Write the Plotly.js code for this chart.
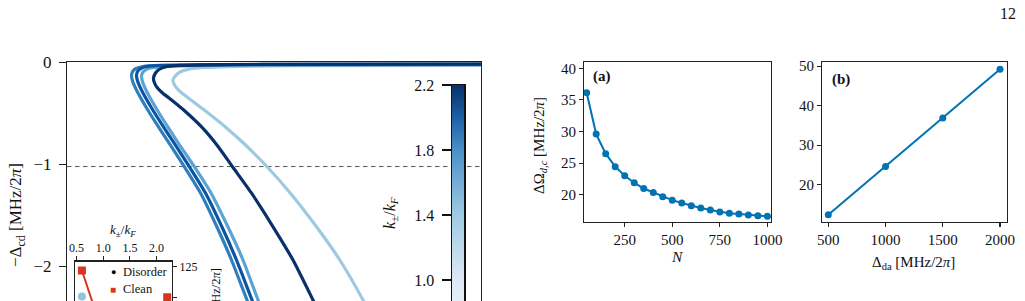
<!DOCTYPE html>
<html><head><meta charset="utf-8">
<script src="https://cdn.plot.ly/plotly-3.0.1.min.js"></script>
<style>html,body{margin:0;padding:0;background:#fff;}#chart{width:1025px;height:301px;}</style>
</head><body><div id="chart"></div>
<script>
// ---------- main panel: −Δcd curves, one per k±/kF ----------
const curveK = [1.4, 1.6, 1.8, 2.0, 2.2];
const curveColors = ['#9ecae1', '#5ba3d3', '#2f7fbf', '#0b549f', '#08306b'];
const curveX_k14 = [100.00, 56.28, 41.79, 33.33, 29.71, 27.54, 26.33, 25.60, 25.97, 26.93, 28.38, 29.95, 33.14, 38.19, 42.61, 48.33, 53.91, 60.31, 65.89, 71.50, 72.95];
const curveY_k14 = [-0.031, -0.034, -0.039, -0.051, -0.066, -0.090, -0.125, -0.174, -0.223, -0.272, -0.321, -0.370, -0.468, -0.631, -0.791, -1.024, -1.281, -1.615, -1.938, -2.330, -2.448];
const curveX_k16 = [100.00, 56.28, 34.54, 24.88, 20.77, 19.08, 18.36, 17.99, 18.19, 18.72, 19.57, 21.93, 24.52, 27.05, 30.80, 34.78, 38.89, 42.51, 46.14, 47.34];
const curveY_k16 = [-0.023, -0.026, -0.031, -0.039, -0.051, -0.071, -0.095, -0.134, -0.183, -0.242, -0.311, -0.477, -0.644, -0.801, -1.026, -1.281, -1.615, -1.938, -2.330, -2.448];
const curveX_k18 = [100.00, 56.28, 32.13, 22.46, 18.36, 16.67, 15.94, 15.58, 15.77, 16.30, 17.15, 19.52, 22.10, 24.64, 28.38, 32.25, 36.23, 39.73, 43.48, 44.69];
const curveY_k18 = [-0.020, -0.023, -0.026, -0.031, -0.041, -0.061, -0.085, -0.125, -0.174, -0.232, -0.301, -0.468, -0.634, -0.791, -1.026, -1.281, -1.615, -1.938, -2.330, -2.448];
const curveX_k20 = [100.00, 56.28, 33.33, 23.67, 19.57, 17.87, 17.15, 16.79, 16.98, 17.51, 18.36, 20.73, 23.31, 25.85, 29.59, 33.45, 37.44, 40.94, 44.69, 45.89];
const curveY_k20 = [-0.017, -0.020, -0.024, -0.029, -0.039, -0.059, -0.085, -0.125, -0.174, -0.232, -0.301, -0.468, -0.634, -0.791, -1.026, -1.281, -1.615, -1.938, -2.330, -2.448];
const curveX_k22 = [100.00, 56.28, 36.96, 27.29, 23.67, 22.22, 21.38, 20.89, 21.14, 21.86, 23.07, 24.64, 26.45, 28.19, 32.51, 36.21, 40.02, 44.54, 49.81, 54.59, 59.42, 60.87];
const curveY_k22 = [-0.015, -0.017, -0.022, -0.031, -0.046, -0.071, -0.105, -0.154, -0.203, -0.252, -0.301, -0.350, -0.409, -0.468, -0.634, -0.811, -1.026, -1.281, -1.615, -1.938, -2.330, -2.448];
const thresholdY = -1.022;
const mainYTicks = [0, -1, -2];
const mainYTickText = ['0', '−1', '−2'];

// colorbar (k±/kF)
const cbarLevels = [0.6, 1.0, 1.4, 1.8, 2.0, 2.2];
const cbarTicks = [1.0, 1.4, 1.8, 2.2];
const cbarTickText = ['1.0', '1.4', '1.8', '2.2'];

// ---------- inset ----------
const insetK = [0.6, 1.0, 1.4, 1.8, 2.2];
const insetClean = [121.8, 70, 60, 66, 100.3];
const insetDisorder = [100.8, 78, 66, 62, 72];
const insetDisorderColors = ['#92c3e0', '#6baed6', '#4292c6', '#2171b5', '#08519c'];
const insetXTicks = [0.5, 1.0, 1.5, 2.0];
const insetXTickText = ['0.5', '1.0', '1.5', '2.0'];
const insetYTicks = [100, 125];

// ---------- panel (a) ----------
const panelA_N = [50, 100, 150, 200, 250, 300, 350, 400, 450, 500, 550, 600, 650, 700, 750, 800, 850, 900, 950, 1000];
const panelA_dOmega = [36.15, 29.6, 26.5, 24.45, 23.0, 21.9, 21.0, 20.35, 19.7, 19.15, 18.7, 18.25, 17.9, 17.6, 17.3, 17.1, 16.95, 16.8, 16.7, 16.6];
const panelA_XTicks = [250, 500, 750, 1000];
const panelA_YTicks = [20, 25, 30, 35, 40];

// ---------- panel (b) ----------
const panelB_deltaDA = [500, 1000, 1500, 2000];
const panelB_dOmega = [12.4, 24.6, 36.9, 49.2];
const panelB_XTicks = [500, 1000, 1500, 2000];
const panelB_YTicks = [20, 30, 40, 50];

// ---------- build ----------
const W = 1025, H = 301;
const fx = v => v / W;
const fy = v => 1 - v / H;
const FONT = 'Liberation Serif';
const INK = '#111';
const LINE = '#222';
const BLUE = '#0173b2';
const RED = '#d9341f';
const F = (size, color) => ({family: FONT, size: size, color: color || INK});

const curves = [
  [curveX_k14, curveY_k14], [curveX_k16, curveY_k16], [curveX_k18, curveY_k18],
  [curveX_k20, curveY_k20], [curveX_k22, curveY_k22]
];
const traces = [];
curves.forEach((c, i) => {
  traces.push({x: c[0], y: c[1], xaxis: 'x', yaxis: 'y', mode: 'lines',
    name: 'k=' + curveK[i], line: {color: curveColors[i], width: 3.2, shape: 'spline', smoothing: 0.6},
    showlegend: false, hoverinfo: 'skip'});
});

traces.push({type: 'heatmap', xaxis: 'x5', yaxis: 'y5', x: [0, 1], y: cbarLevels,
  z: cbarLevels.map(v => [v, v]), zmin: 0.6, zmax: 2.2, zsmooth: 'best', showscale: false,
  colorscale: [[0, '#f7fbff'], [0.25, '#dde9f5'], [0.5, '#a0cbe2'], [0.75, '#4a90c8'], [0.875, '#1c62a8'], [1, '#08306b']],
  hoverinfo: 'skip'});

traces.push({x: insetK, y: insetClean, xaxis: 'x4', yaxis: 'y4', mode: 'lines+markers',
  line: {color: RED, width: 2}, marker: {symbol: 'square', size: 8, color: RED}, showlegend: false});
traces.push({x: insetK, y: insetDisorder, xaxis: 'x4', yaxis: 'y4', mode: 'markers',
  marker: {symbol: 'circle', size: 8, color: insetDisorderColors}, showlegend: false});

traces.push({x: panelA_N, y: panelA_dOmega, xaxis: 'x2', yaxis: 'y2', mode: 'lines+markers',
  line: {color: BLUE, width: 2}, marker: {size: 7, color: BLUE}, showlegend: false});
traces.push({x: panelB_deltaDA, y: panelB_dOmega, xaxis: 'x3', yaxis: 'y3', mode: 'lines+markers',
  line: {color: BLUE, width: 2}, marker: {size: 7, color: BLUE}, showlegend: false});

const axBase = {showgrid: false, zeroline: false, linecolor: LINE, linewidth: 1.1, tickcolor: LINE,
  tickwidth: 1.1, fixedrange: true, showline: true};

const ann = (text, x, y, size, extra) => Object.assign({text: text, xref: 'paper', yref: 'paper',
  x: fx(x), y: fy(y), xanchor: 'center', yanchor: 'middle', showarrow: false, font: F(size)}, extra || {});

const layout = {
  width: W, height: H, margin: {l: 0, r: 0, t: 0, b: 0},
  paper_bgcolor: '#fff', plot_bgcolor: '#fff',
  font: F(15),
  showlegend: false,
  xaxis: Object.assign({}, axBase, {domain: [fx(67), fx(481)], anchor: 'y', range: [0, 100], side: 'top',
    ticks: '', showticklabels: false}),
  yaxis: Object.assign({}, axBase, {domain: [0, fy(62.3)], anchor: 'x', range: [-2.340, 0], mirror: true,
    ticks: 'outside', ticklen: 7, tickvals: mainYTicks, ticktext: mainYTickText, tickfont: F(17),
    ticklabelstandoff: 4}),
  xaxis2: Object.assign({}, axBase, {domain: [fx(584), fx(771)], anchor: 'y2', range: [36, 1019], mirror: true,
    ticks: 'outside', ticklen: 4, tickvals: panelA_XTicks, tickfont: F(15)}),
  yaxis2: Object.assign({}, axBase, {domain: [fy(222), fy(62)], anchor: 'x2', range: [15.7, 41.0], mirror: true,
    ticks: 'outside', ticklen: 4, tickvals: panelA_YTicks, tickfont: F(15)}),
  xaxis3: Object.assign({}, axBase, {domain: [fx(822), fx(1007)], anchor: 'y3', range: [445, 2061], mirror: true,
    ticks: 'outside', ticklen: 4, tickvals: panelB_XTicks, tickfont: F(15)}),
  yaxis3: Object.assign({}, axBase, {domain: [fy(222), fy(62)], anchor: 'x3', range: [10.56, 51.04], mirror: true,
    ticks: 'outside', ticklen: 4, tickvals: panelB_YTicks, tickfont: F(15)}),
  xaxis4: Object.assign({}, axBase, {domain: [fx(75), fx(172)], anchor: 'y4', side: 'top', range: [0.47, 2.29],
    ticks: 'outside', ticklen: 4, tickvals: insetXTicks, ticktext: insetXTickText, tickfont: F(12)}),
  yaxis4: Object.assign({}, axBase, {domain: [0, fy(261.5)], anchor: 'x4', side: 'right', range: [97.2, 129.0],
    mirror: true, ticks: 'outside', ticklen: 4, tickvals: insetYTicks, tickfont: F(12)}),
  xaxis5: Object.assign({}, axBase, {domain: [fx(452), fx(464)], anchor: 'y5', side: 'top', range: [-0.5, 1.5],
    ticks: '', showticklabels: false, linecolor: '#111', linewidth: 1.5}),
  yaxis5: Object.assign({}, axBase, {domain: [0, fy(85)], anchor: 'x5', range: [0.8708, 2.2], mirror: true,
    linecolor: '#111', linewidth: 1.5, ticks: 'outside', ticklen: 9, tickwidth: 1.5, tickcolor: '#111',
    tickvals: cbarTicks, ticktext: cbarTickText, tickfont: F(16), ticklabelstandoff: 4}),
  shapes: [
    {type: 'line', xref: 'x domain', yref: 'y', x0: 0, x1: 1, y0: thresholdY, y1: thresholdY,
     line: {color: '#555', width: 1, dash: '4.5px,3.5px'}, layer: 'below'}
  ],
  annotations: [
    ann('12', 1008, 14, 16),
    ann('−Δ<sub>cd</sub> [MHz/2<i>π</i>]', 17, 215, 17, {textangle: -90}),
    ann('<i>k</i><sub>±</sub>/<i>k</i><sub><i>F</i></sub>', 390, 213, 16, {textangle: -90}),
    ann('<i>k</i><sub>±</sub>/<i>k</i><sub><i>F</i></sub>', 123, 230, 13),
    ann('Ω<sub><i>d,c</i></sub> [MHz/2<i>π</i>]', 216.5, 266, 12.5, {yanchor: 'top', textangle: -90}),
    ann('●', 113.3, 271.7, 9, {font: F(9, '#000')}),
    ann('■', 113.3, 289.3, 10, {font: F(10, RED)}),
    ann('Disorder', 120.5, 271.7, 12.5, {xanchor: 'left'}),
    ann('Clean', 120.5, 289.3, 12.5, {xanchor: 'left'}),
    ann('<b>(a)</b>', 601.5, 76.5, 15),
    ann('<b>(b)</b>', 841, 79, 15),
    ann('ΔΩ<sub><i>d,c</i></sub> [MHz/2<i>π</i>]', 540, 146, 15, {textangle: -90}),
    ann('<i>N</i>', 677, 256, 15.5),
    ann('Δ<sub>da</sub> [MHz/2<i>π</i>]', 913, 263, 15)
  ]
};

Plotly.newPlot('chart', traces, layout, {staticPlot: true, displayModeBar: false});
</script></body></html>
